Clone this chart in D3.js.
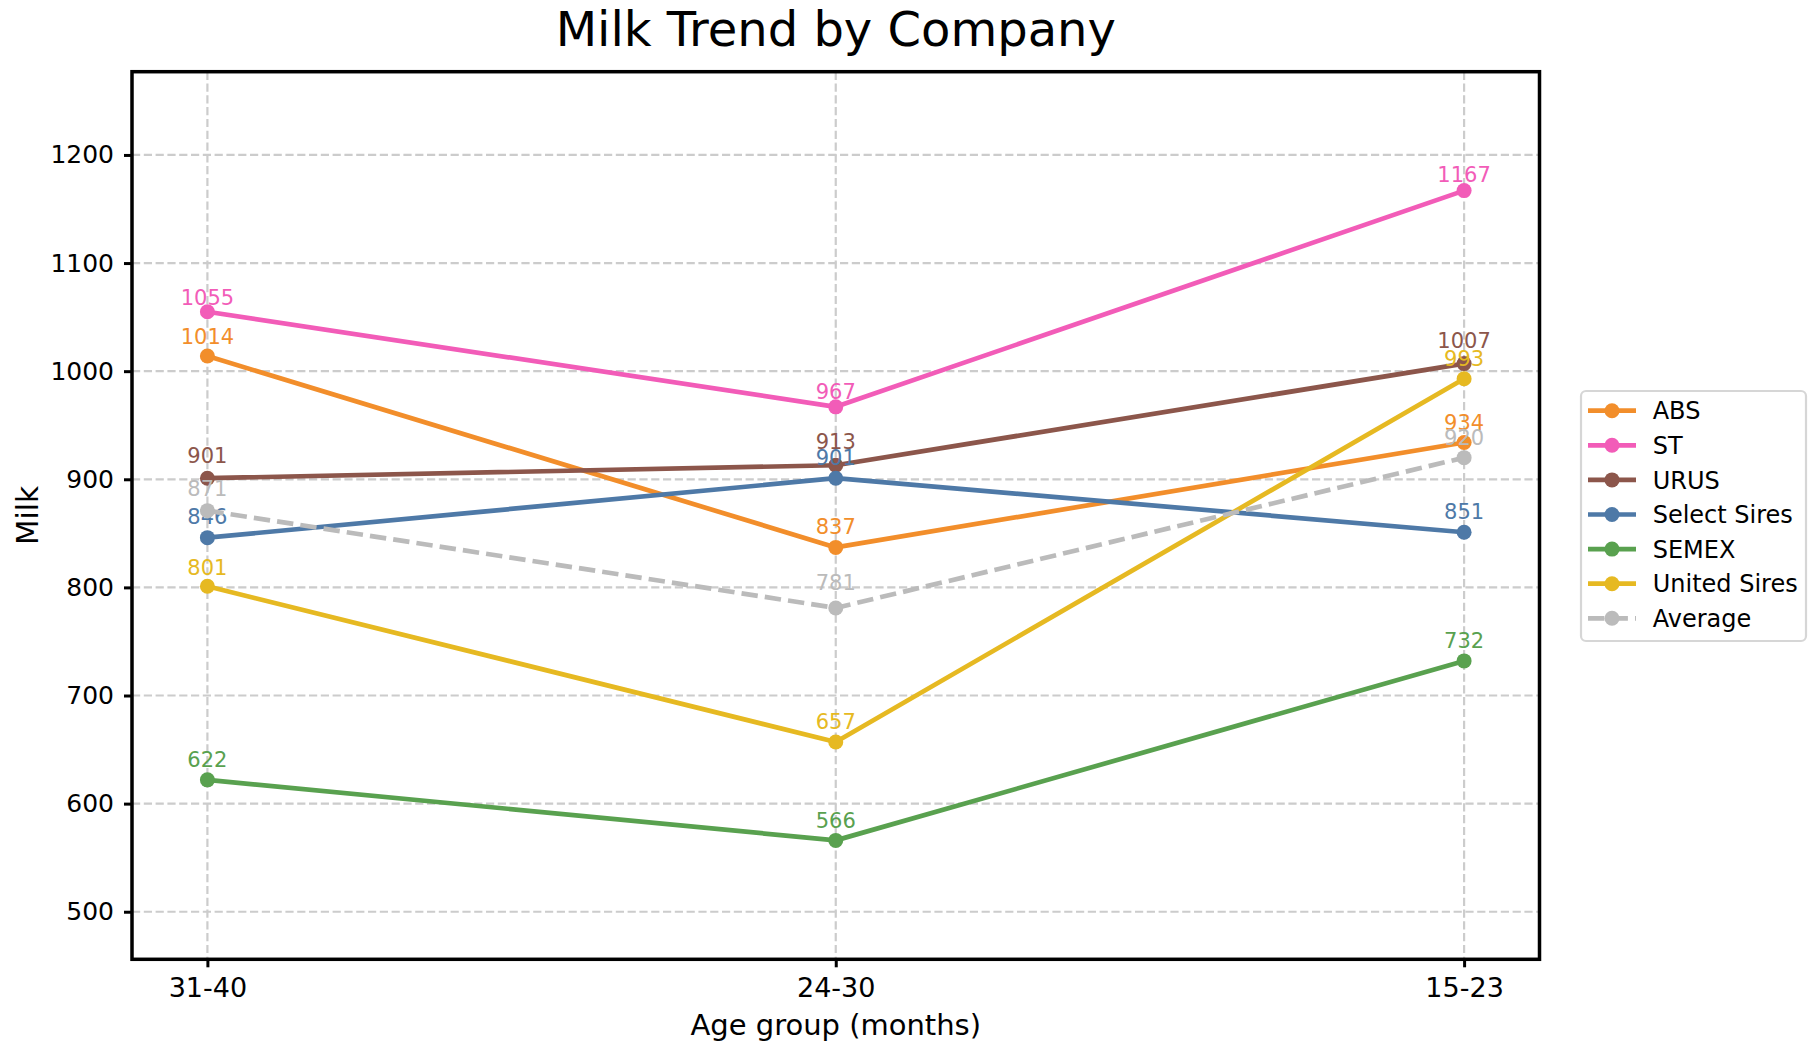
<!DOCTYPE html>
<html>
<head>
<meta charset="utf-8">
<script src="https://cdn.jsdelivr.net/npm/d3@7"></script>
<style>
  html, body { margin: 0; padding: 0; background: #fff; }
  svg { display: block; font-family: "DejaVu Sans", sans-serif; }
</style>
</head>
<body>
<svg id="chart" width="1808" height="1045"></svg>
<script>
// ---- data ----
const categories = ["31-40", "24-30", "15-23"];
const seriesNames = ["ABS", "ST", "URUS", "Select Sires", "SEMEX", "United Sires", "Average"];
const absValues = [1014, 837, 934];
const stValues = [1055, 967, 1167];
const urusValues = [901, 913, 1007];
const selectSiresValues = [846, 901, 851];
const semexValues = [622, 566, 732];
const unitedSiresValues = [801, 657, 993];
const averageValues = [871, 781, 920];
const yTicks = [500, 600, 700, 800, 900, 1000, 1100, 1200];
const seriesColors = ["#F28E2B", "#F25CB8", "#8C564B", "#4E79A7", "#59A14F", "#E6B922", "#BBBBBB"];

// layout config: vertical lift (px) of each value label above its point
const labelLift = [
  [12.4, 13.3, 12.3],
  [7.0, 8.3, 8.3],
  [15.4, 16.4, 15.6],
  [13.3, 13.3, 13.5],
  [12.5, 12.2, 12.5],
  [11.7, 12.5, 12.7],
  [14.3, 17.6, 12.6]
];

const seriesValues = [absValues, stValues, urusValues, selectSiresValues, semexValues, unitedSiresValues, averageValues];
const series = seriesNames.map((n, i) => ({ name: n, values: seriesValues[i], color: seriesColors[i], dashed: n === "Average", lift: labelLift[i] }));

// ---- layout ----
const svg = d3.select("#chart");
const L = 132, R = 1539.5, T = 71.7, B = 959.3;

const x = d3.scaleLinear().domain([-0.12, 2.12]).range([L, R]);
const y = d3.scaleLinear().domain([456, 1277]).range([B, T]);

// grid
const grid = svg.append("g");
grid.selectAll("line.gy").data(yTicks).join("line")
  .attr("x1", L).attr("x2", R)
  .attr("y1", d => y(d)).attr("y2", d => y(d))
  .attr("stroke", "#cccccc").attr("stroke-width", 2.2).attr("stroke-dasharray", "8.2,3.6");
grid.selectAll("line.gx").data(categories).join("line")
  .attr("x1", (d, i) => x(i)).attr("x2", (d, i) => x(i))
  .attr("y1", T).attr("y2", B)
  .attr("stroke", "#cccccc").attr("stroke-width", 2.2).attr("stroke-dasharray", "8.2,3.6");

// axes
const yAxis = d3.axisLeft(y).tickValues(yTicks).tickSize(8).tickPadding(10).tickFormat(d3.format("d"));
const gy = svg.append("g").attr("transform", `translate(${L},0)`).call(yAxis);
const xAxis = d3.axisBottom(x).tickValues([0, 1, 2]).tickSize(8).tickPadding(10).tickFormat(i => categories[i]);
const gx = svg.append("g").attr("transform", `translate(0,${B})`).call(xAxis);
[gx, gy].forEach(g => {
  g.select(".domain").remove();
  g.selectAll(".tick line").attr("stroke", "#000").attr("stroke-width", 3);
  g.selectAll(".tick text").attr("fill", "#000").attr("font-family", "DejaVu Sans");
});
gy.selectAll(".tick text").attr("font-size", 25);
gx.selectAll(".tick text").attr("font-size", 27).attr("dy", null).attr("y", 37.5);

// series
const line = d3.line().x((d, i) => x(i)).y(d => y(d));
series.forEach(s => {
  const g = svg.append("g");
  g.append("path").datum(s.values)
    .attr("d", line).attr("fill", "none")
    .attr("stroke", s.color).attr("stroke-width", 4.7)
    .attr("stroke-linejoin", "round")
    .attr("stroke-dasharray", s.dashed ? "16.4,7.1" : null);
  g.selectAll("circle").data(s.values).join("circle")
    .attr("cx", (d, i) => x(i)).attr("cy", d => y(d)).attr("r", 7.5)
    .attr("fill", s.color);
  g.selectAll("text").data(s.values).join("text")
    .attr("x", (d, i) => x(i)).attr("y", (d, i) => y(d) - s.lift[i])
    .attr("text-anchor", "middle").attr("font-size", 21)
    .attr("fill", s.color).text(d => d);
});

// frame
svg.append("rect").attr("x", L).attr("y", T).attr("width", R - L).attr("height", B - T)
  .attr("fill", "none").attr("stroke", "#000").attr("stroke-width", 3.5);

// title & labels
svg.append("text").attr("x", (L + R) / 2).attr("y", 46).attr("text-anchor", "middle")
  .attr("font-size", 48).attr("fill", "#000").text("Milk Trend by Company");
svg.append("text").attr("x", (L + R) / 2).attr("y", 1035).attr("text-anchor", "middle")
  .attr("font-size", 29).attr("fill", "#000").text("Age group (months)");
svg.append("text").attr("transform", `translate(38,${(T + B) / 2}) rotate(-90)`)
  .attr("text-anchor", "middle").attr("font-size", 29.5).attr("fill", "#000").text("Milk");

// legend
const lg = svg.append("g");
lg.append("rect").attr("x", 1581).attr("y", 391).attr("width", 225).attr("height", 250)
  .attr("rx", 5).attr("fill", "#fff").attr("fill-opacity", 0.8)
  .attr("stroke", "#d6d6d6").attr("stroke-width", 2.2);
const rowY = i => 410.7 + i * 34.6;
series.forEach((s, i) => {
  lg.append("line").attr("x1", 1588).attr("x2", 1636).attr("y1", rowY(i)).attr("y2", rowY(i))
    .attr("stroke", s.color).attr("stroke-width", 4.7)
    .attr("stroke-dasharray", s.dashed ? "16.4,7.1" : null);
  lg.append("circle").attr("cx", 1612).attr("cy", rowY(i)).attr("r", 7.5).attr("fill", s.color);
  lg.append("text").attr("x", 1652.7).attr("y", rowY(i) + 8.6).attr("font-size", 24)
    .attr("fill", "#000").text(s.name);
});
</script>
</body>
</html>
